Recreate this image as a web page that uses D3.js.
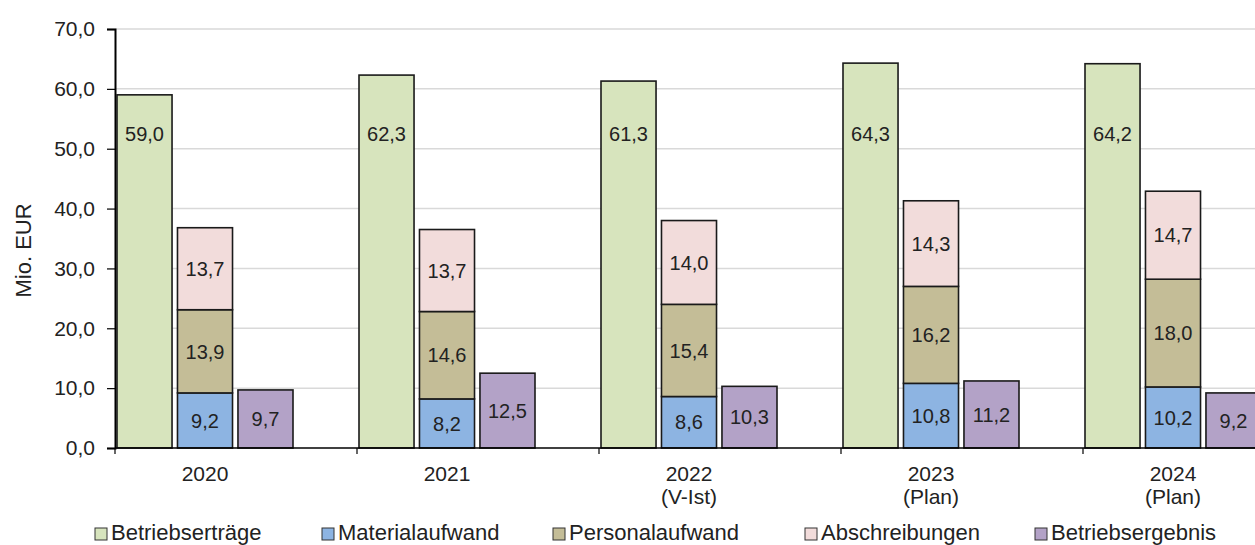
<!DOCTYPE html>
<html lang="de">
  <head>
    <meta charset="UTF-8" />
    <script src="https://cdn.jsdelivr.net/npm/d3@7"></script>
    <style>
      body { margin: 0; background: #fff; }
      svg text { font-family: "Liberation Sans", Arial, sans-serif; fill: #222; }
    </style>
  </head>
  <body>
    <div id="fig"></div>
    <script>
      const width = 1255;
      const height = 545;

      // data
      const years = ["2020", "2021", "2022", "2023", "2024"];
      const yearNotes = ["", "", "(V-Ist)", "(Plan)", "(Plan)"];
      const betriebsertraege = [59.0, 62.3, 61.3, 64.3, 64.2];
      const materialaufwand = [9.2, 8.2, 8.6, 10.8, 10.2];
      const personalaufwand = [13.9, 14.6, 15.4, 16.2, 18.0];
      const abschreibungen = [13.7, 13.7, 14.0, 14.3, 14.7];
      const betriebsergebnis = [9.7, 12.5, 10.3, 11.2, 9.2];
      const yTicks = [0, 10, 20, 30, 40, 50, 60, 70];

      const legendNames = ["Betriebserträge", "Materialaufwand", "Personalaufwand", "Abschreibungen", "Betriebsergebnis"];
      const colors = {
        ertrag: "#d7e4bd",
        material: "#8db4e2",
        personal: "#c4bd97",
        abschr: "#f2dcdb",
        ergebnis: "#b3a2c7"
      };
      const legendColors = [colors.ertrag, colors.material, colors.personal, colors.abschr, colors.ergebnis];

      const fmt = (v) => d3.format(".1f")(v).replace(".", ",");

      const svg = d3.select("#fig").append("svg")
        .attr("width", width).attr("height", height);

      const x0 = 115, y0 = 448, yTop = 29;
      const y = d3.scaleLinear().domain([0, 70]).range([y0, yTop]);
      const x = d3.scaleBand().domain(years).range([x0, x0 + 242 * years.length]);
      // three bars fill the left part of each category band
      const sub = d3.scaleBand().domain(["ertrag", "stack", "ergebnis"])
        .range([2, 178]).paddingInner(0.09);

      // grid
      svg.append("g").selectAll("line").data(yTicks.filter(d => d > 0)).join("line")
        .attr("x1", x0).attr("x2", width)
        .attr("y1", d => y(d)).attr("y2", d => y(d))
        .attr("stroke", "#d9d9d9").attr("stroke-width", 1.5);

      // y axis
      const yAxis = svg.append("g").attr("transform", `translate(${x0},0)`)
        .call(d3.axisLeft(y).tickValues(yTicks).tickFormat(fmt).tickSize(8).tickPadding(12));
      yAxis.select(".domain").attr("stroke", "#000").attr("stroke-width", 2);
      yAxis.selectAll(".tick line").attr("stroke", "#000").attr("stroke-width", 1.2);
      yAxis.selectAll("text").style("font-size", "21px").attr("fill", "#222");

      svg.append("text")
        .attr("transform", `translate(31,${y(33)}) rotate(-90)`)
        .attr("text-anchor", "middle")
        .style("font-size", "22px")
        .text("Mio. EUR");

      const bars = svg.append("g");
      const labels = svg.append("g");
      const barStyle = (sel) => sel.attr("stroke", "#1a1a1a").attr("stroke-width", 1.6);
      const valueLabel = (cx, cy, v) => labels.append("text")
        .attr("x", cx).attr("y", cy)
        .attr("text-anchor", "middle").attr("dy", "0.36em").style("font-size", "20px")
        .text(fmt(v));

      years.forEach((yr, i) => {
        const bx = x(yr);
        const bw = sub.bandwidth();
        // Betriebserträge
        const gx = bx + sub("ertrag");
        bars.append("rect").attr("x", gx).attr("width", bw)
          .attr("y", y(betriebsertraege[i])).attr("height", y0 - y(betriebsertraege[i]))
          .attr("fill", colors.ertrag).call(barStyle);
        valueLabel(gx + bw / 2, y(52.5), betriebsertraege[i]);

        // stacked costs
        const sx = bx + sub("stack");
        const parts = [
          [materialaufwand[i], colors.material],
          [personalaufwand[i], colors.personal],
          [abschreibungen[i], colors.abschr]
        ];
        let base = 0;
        parts.forEach(([v, c]) => {
          const top = base + v;
          bars.append("rect").attr("x", sx).attr("width", bw)
            .attr("y", y(top)).attr("height", y(base) - y(top))
            .attr("fill", c).call(barStyle);
          valueLabel(sx + bw / 2, (y(base) + y(top)) / 2, v);
          base = top;
        });

        // Betriebsergebnis
        const ex = bx + sub("ergebnis");
        bars.append("rect").attr("x", ex).attr("width", bw)
          .attr("y", y(betriebsergebnis[i])).attr("height", y0 - y(betriebsergebnis[i]))
          .attr("fill", colors.ergebnis).call(barStyle);
        valueLabel(ex + bw / 2, (y0 + y(betriebsergebnis[i])) / 2, betriebsergebnis[i]);
      });

      // x axis
      svg.append("line").attr("x1", x0).attr("x2", width).attr("y1", y0).attr("y2", y0)
        .attr("stroke", "#000").attr("stroke-width", 1.6);
      svg.append("g").selectAll("line").data(years).join("line")
        .attr("x1", d => x(d)).attr("x2", d => x(d))
        .attr("y1", y0).attr("y2", y0 + 6)
        .attr("stroke", "#000").attr("stroke-width", 1.2);
      const xl = svg.append("g").selectAll("text").data(years).join("text")
        .attr("x", d => x(d) + 90)
        .attr("y", y0 + 33)
        .attr("text-anchor", "middle")
        .style("font-size", "21px");
      xl.append("tspan").text(d => d);
      xl.append("tspan").attr("x", d => x(d) + 90).attr("dy", 23)
        .text((d, i) => yearNotes[i]);

      // legend
      const legendX = [95, 322, 553, 805, 1035];
      const lg = svg.append("g").selectAll("g").data(legendNames).join("g")
        .attr("transform", (d, i) => `translate(${legendX[i]},540)`);
      lg.append("rect").attr("x", 0).attr("y", -12).attr("width", 12).attr("height", 12)
        .attr("fill", (d, i) => legendColors[i]).attr("stroke", "#333").attr("stroke-width", 1);
      lg.append("text").attr("x", 16).attr("y", 0)
        .style("font-size", "22px").text(d => d);
    </script>
  </body>
</html>
